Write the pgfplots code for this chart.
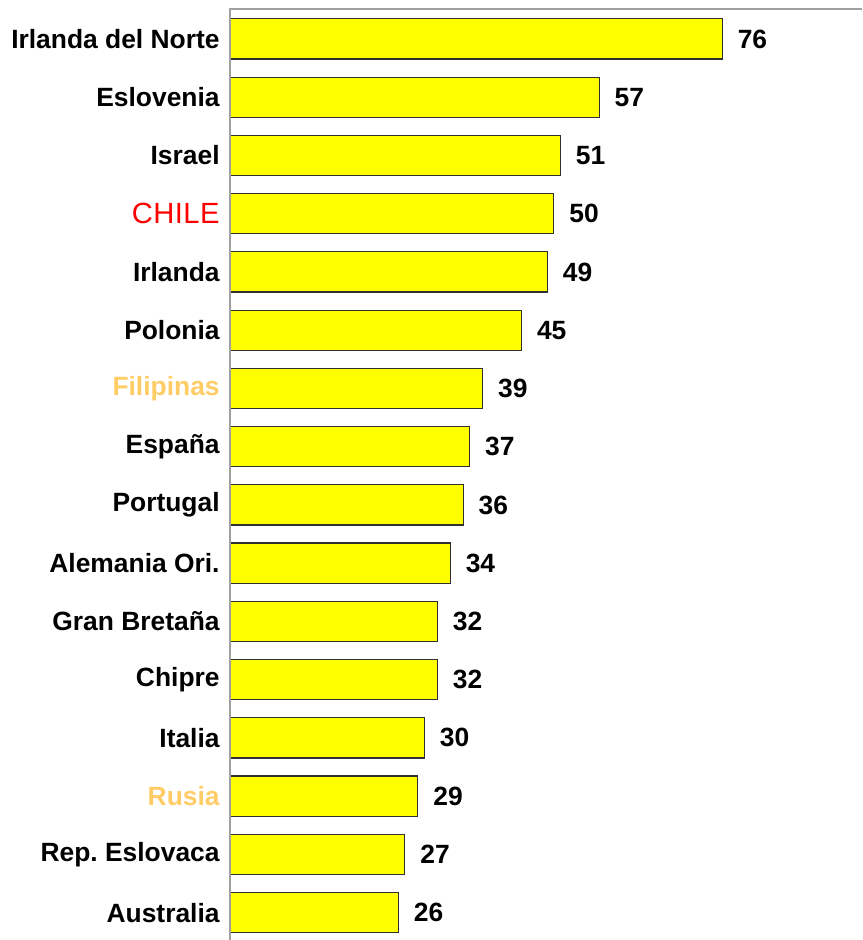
\documentclass[border=0pt]{standalone}
\usepackage{pgfplots}
\pgfplotsset{compat=1.18}
\usepackage{fontspec}
\setmainfont{Liberation Sans}
\usetikzlibrary{calc}
\definecolor{barfill}{HTML}{FFFF00}
\definecolor{barline}{HTML}{303030}
\definecolor{axgray}{HTML}{A0A0A0}
\definecolor{chilered}{HTML}{FF0000}
\definecolor{pale}{HTML}{FFCC66}
\newcommand{\lbl}{\fontsize{13.2}{15}\selectfont}
\frenchspacing
\begin{document}
\begin{tikzpicture}
\begin{axis}[
  scale only axis, width=316pt, height=465.5pt,
  xmin=0, xmax=97.6, ymin=-0.515, ymax=15.47,
  y dir=reverse,
  axis line style={draw=none},
  xtick=\empty,
  ytick={0,...,15},
  major tick length=0pt,
  yticklabels={Irlanda del Norte, Eslovenia, Israel,
    {\textcolor{chilered}{\mdseries\fontsize{14.6}{16}\selectfont\addfontfeatures{LetterSpace=1.5}CHILE}}, Irlanda, Polonia,
    {\textcolor{pale}{Filipinas}}, España, Portugal, Alemania Ori.,
    Gran Bretaña, Chipre, Italia, {\textcolor{pale}{Rusia}},
    Rep.\ Eslovaca, Australia},
  yticklabel style={font=\lbl\bfseries, inner sep=0pt, xshift=-5pt},
  xbar, bar width=0.69,
  nodes near coords={\pgfmathprintnumber[assume math mode=true]{\pgfplotspointmeta}},
  nodes near coords style={font=\lbl\bfseries, inner sep=0pt, xshift=7.5pt},
  clip=false,
]
\addplot[fill=barfill, draw=barline, line width=0.6pt] coordinates {
  (76,0) (57,1) (51,2) (50,3) (49,4) (45,5) (39,6) (37,7)
  (36,8) (34,9) (32,10) (32,11) (30,12) (29,13) (27,14) (26,15)
};
\draw[axgray, line width=0.8pt] (axis cs:0,15.47) -- (axis cs:0,-0.515) -- (axis cs:97.6,-0.515);
\end{axis}
\pgfresetboundingbox
\useasboundingbox ($(current axis.south west)+(-115pt,0)$) rectangle ($(current axis.north east)+(0,4.5pt)$);
\end{tikzpicture}
\end{document}
